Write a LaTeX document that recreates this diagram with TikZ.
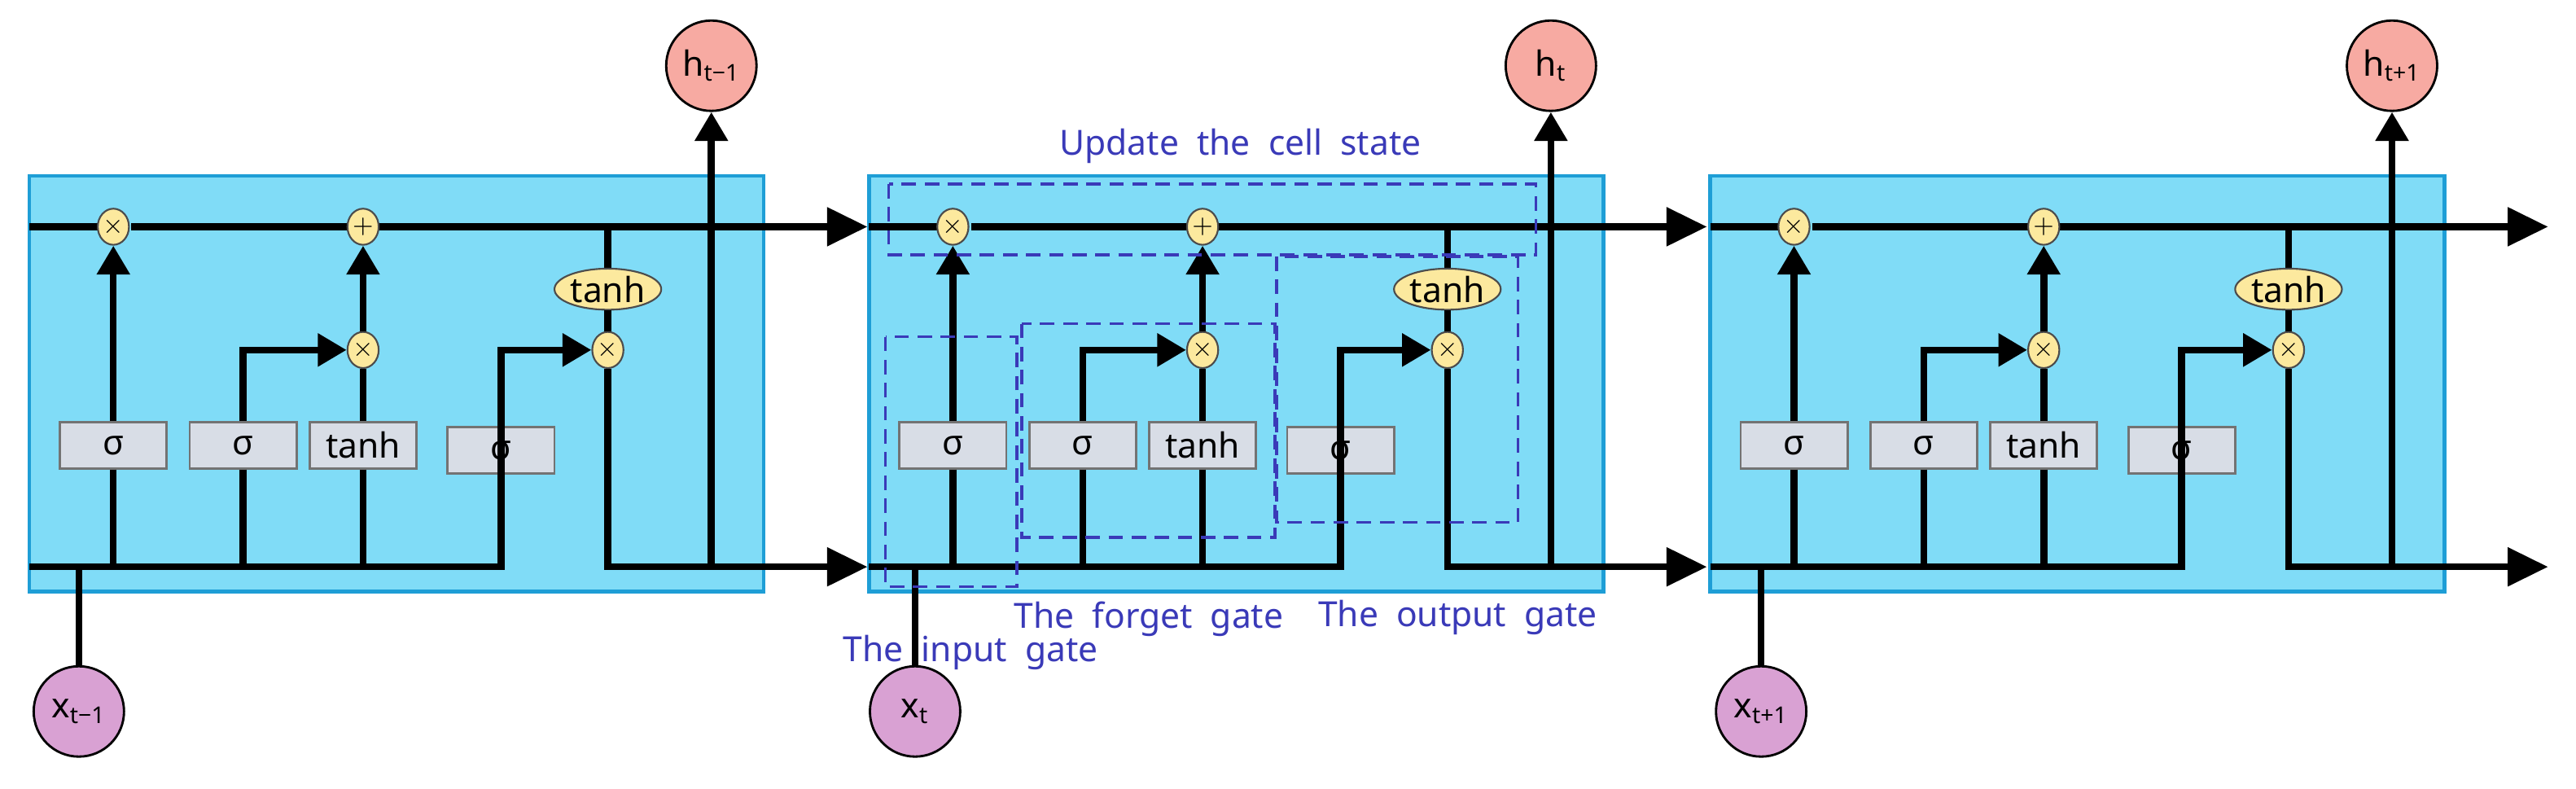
\documentclass[tikz,border=0pt]{standalone}
\usepackage{fontspec}
\setmainfont{Noto Sans}
\usetikzlibrary{arrows.meta,shapes.geometric}
\definecolor{cellfill}{HTML}{80DCF7}
\definecolor{celldraw}{HTML}{1E9ED6}
\definecolor{opfill}{HTML}{FCE99E}
\definecolor{boxfill}{HTML}{D8DDE6}
\definecolor{hfill}{HTML}{F7AAA2}
\definecolor{xfill}{HTML}{D9A1D3}
\definecolor{gate}{HTML}{3A3AB8}
\begin{document}
\begin{tikzpicture}[x=0.02cm,y=-0.02cm,
  cell/.style={fill=cellfill,draw=celldraw,line width=1.2pt},
  ln/.style={line width=2.4pt,black},
  arr/.style={ln,-{Triangle[length=14pt,width=13pt]}},
  sarr/.style={ln,-{Triangle[length=10pt,width=11pt]}},
  op/.style={ellipse,fill=opfill,draw=black!70,line width=0.6pt,minimum width=19\pgfmathresult pt,minimum width=0.38cm,minimum height=0.44cm,inner sep=0pt,font=\small},
  th/.style={ellipse,fill=opfill,draw=black!70,line width=0.6pt,minimum width=1.3cm,minimum height=0.5cm,inner sep=0pt,font=\large},
  gbox/.style={rectangle,fill=boxfill,draw=black!55,line width=0.8pt,minimum width=1.3cm,minimum height=0.56cm,inner sep=0pt,font=\large},
  hc/.style={circle,fill=hfill,draw=black,line width=0.8pt,minimum size=1.1cm,inner sep=0pt,font=\large},
  xc/.style={circle,fill=xfill,draw=black,line width=0.8pt,minimum size=1.1cm,inner sep=0pt,font=\large},
  gd/.style={draw=gate,line width=1pt,dash pattern=on 5pt off 3pt},
  gl/.style={text=gate,font=\large,inner sep=0pt}]
\fill[white] (0,0) rectangle (1568,480);
\useasboundingbox (0,0) rectangle (1568,480);
\foreach \i/\o/\hs/\xx in {1/0/t−1/48, 2/511/t/557, 3/1023/t+1/1072}{
  \draw[cell] (\o+18,107) rectangle (\o+465,360);
  \coordinate (tl\i) at (\o+18,138);
  \coordinate (tr\i) at (\o+528,138);
  \coordinate (bl\i) at (\o+18,345);
  \coordinate (br\i) at (\o+528,345);
  \node[gbox] (sa\i) at (\o+69,271) {σ};
  \node[gbox] (sb\i) at (\o+148,271) {σ};
  \node[gbox] (tb\i) at (\o+221,271) {tanh};
  \node[gbox] (sc\i) at (\o+305,274) {σ};
  \node[hc] (h\i) at (\o+433,40) {h\textsubscript{\hs}};
  \node[xc] (x\i) at (\xx,433) {x\textsubscript{\hs}};
  \draw[ln] (tl\i) -- (\o+60,138);
  \draw[ln] (\o+80,138) -- (\o+212,138);
  \draw[arr] (\o+231,138) -- (tr\i);
  \draw[ln] (\o+370,138) -- (\o+370,176);
  \draw[ln] (bl\i) -- (sc\i.north |- bl\i) -- (sc\i.north);
  \draw[ln] (sa\i.south) -- (sa\i.south |- bl\i);
  \draw[ln] (sb\i.south) -- (sb\i.south |- bl\i);
  \draw[ln] (tb\i.south) -- (tb\i.south |- bl\i);
  \draw[ln] (x\i) -- (x\i |- bl\i);
  \node[op] (m1\i) at (\o+69,138) {$\times$};
  \node[op] (a1\i) at (\o+221,138) {$+$};
  \node[op] (m2\i) at (\o+221,213) {$\times$};
  \node[th] (th\i) at (\o+370,176) {tanh};
  \node[op] (m3\i) at (\o+370,213) {$\times$};
  \draw[sarr] (sa\i) -- (m1\i);
  \draw[ln] (tb\i) -- (m2\i);
  \draw[sarr] (m2\i) -- (a1\i);
  \draw[sarr] (sb\i.north) |- (m2\i);
  \draw[sarr] (sc\i.north) |- (m3\i);
  \draw[ln] (th\i) -- (m3\i);
  \draw[arr] (m3\i) |- (br\i);
  \draw[sarr] (h\i |- br\i) -- (h\i);
}
% gate annotations in the middle cell
\draw[gd] (541,112) rectangle (935,155);
\draw[gd] (539,205) rectangle (619,357);
\draw[gd] (622,197) rectangle (776,327);
\draw[gd] (777,156) rectangle (924,318);
\node[gl] (lu) at (755,89) {Update\ \ the\ \ cell\ \ state};
\node[gl,anchor=west] (lf) at (617,377) {The\ \ forget\ \ gate};
\node[gl,anchor=west] (lo) at (802,376) {The\ \ output\ \ gate};
\node[gl,anchor=west] (li) at (513,397) {The\ \ input\ \ gate};
\end{tikzpicture}
\end{document}
